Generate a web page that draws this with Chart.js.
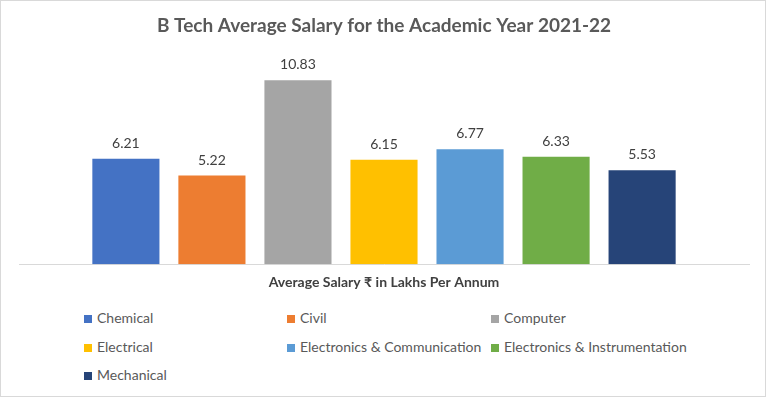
<!DOCTYPE html>
<html>
<head>
<meta charset="utf-8">
<script src="https://cdn.jsdelivr.net/npm/chart.js@4.4.1/dist/chart.umd.min.js"></script>
<style>
  body { margin: 0; background: #fff; font-family: Lato, "Noto Sans", sans-serif; }
  #frame { position: absolute; left: 0; top: 0; width: 766px; height: 397px; box-sizing: border-box; border: 1px solid #d9d9d9; }
  #wrap { position: absolute; left: 0; top: 0; width: 768px; height: 300px; }
  #legend { position: absolute; left: 84px; top: 304px; display: grid; grid-template-columns: 203px 204px 220px; font-size: 14px; color: #595959; line-height: 28.5px; }
  #legend span.box { display: inline-block; width: 8px; height: 8px; margin-right: 5px; vertical-align: 0px; }
</style>
</head>
<body>
<div id="frame"></div>
<div id="wrap"><canvas id="myChart"></canvas></div>
<div id="legend"></div>
<script>
// data
const branches = ["Chemical", "Civil", "Computer", "Electrical", "Electronics & Communication", "Electronics & Instrumentation", "Mechanical"];
const salaries = [6.21, 5.22, 10.83, 6.15, 6.77, 6.33, 5.53];
const colors = ["#4472C4", "#ED7D31", "#A5A5A5", "#FFC000", "#5B9BD5", "#70AD47", "#264478"];

// value labels above the bars
const valueLabels = {
  id: "valueLabels",
  afterDatasetsDraw(chart) {
    const ctx = chart.ctx;
    ctx.save();
    ctx.font = "14px Lato";
    ctx.fillStyle = "#404040";
    ctx.textAlign = "center";
    chart.data.datasets.forEach((ds, i) => {
      chart.getDatasetMeta(i).data.forEach((bar, j) => {
        ctx.fillText(ds.data[j].toFixed(2), bar.x, bar.y - 11);
      });
    });
    ctx.restore();
  },
};

const data = {
  labels: [""],
  datasets: branches.map((b, i) => ({
    label: b,
    data: [salaries[i]],
    backgroundColor: colors[i],
    categoryPercentage: 0.825,
    barPercentage: 0.78,
  })),
};

const config = {
  type: "bar",
  data,
  options: {
    responsive: true,
    maintainAspectRatio: false,
    animation: false,
    layout: { padding: { left: 19, right: 19, top: 0, bottom: 5 } },
    plugins: {
      legend: { display: false },
      tooltip: { enabled: false },
      title: {
        display: true,
        text: "B Tech Average Salary for the Academic Year 2021-22",
        color: "#595959",
        font: { family: "Lato", size: 19, weight: "bold" },
        padding: { top: 14, bottom: 23.5 },
      },
    },
    scales: {
      x: {
        grid: { display: false, drawTicks: false },
        border: { display: true, color: "#d9d9d9" },
        ticks: { display: false },
        title: {
          display: true,
          text: "Average Salary ₹ in Lakhs Per Annum",
          color: "#404040",
          font: { family: "Lato", size: 14, weight: "bold" },
          padding: { top: 10, bottom: 4 },
        },
      },
      y: { display: false, min: 0, max: 12 },
    },
  },
  plugins: [valueLabels],
};

var myChart = new Chart(document.getElementById("myChart"), config);

// legend in a 3 column grid
const legend = document.getElementById("legend");
branches.forEach((b, i) => {
  const item = document.createElement("div");
  item.innerHTML = '<span class="box" style="background:' + colors[i] + '"></span>';
  item.appendChild(document.createTextNode(b));
  legend.appendChild(item);
});
</script>
</body>
</html>
